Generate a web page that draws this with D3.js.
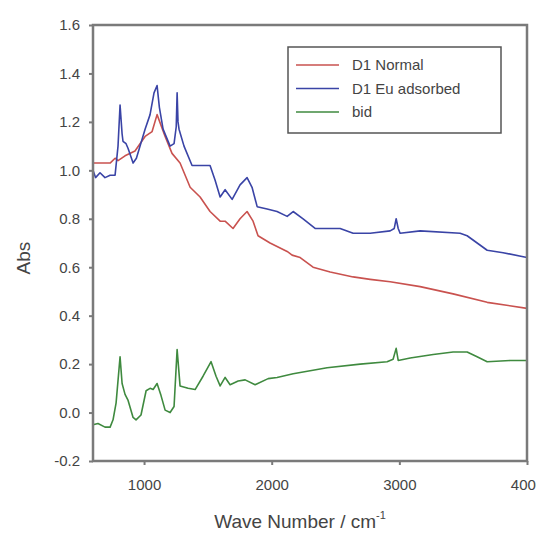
<!DOCTYPE html>
<html>
<head>
<meta charset="utf-8">
<script src="https://cdn.jsdelivr.net/npm/d3@7"></script>
<style>
  body { margin: 0; background: #fff; }
  svg { font-family: "Liberation Sans", Arial, sans-serif; }
</style>
</head>
<body>
<div id="chart"></div>
<script>
// D1 Normal
var normalWn  = [600, 655, 734, 773, 796, 851, 929, 1008, 1063, 1102, 1165, 1219, 1282, 1361, 1439, 1517, 1596, 1635, 1697, 1752, 1807, 1854, 1893, 1987, 2121, 2160, 2223, 2324, 2458, 2638, 2771, 2928, 3163, 3421, 3688, 4000]
var normalAbs = [1.03, 1.03, 1.03, 1.05, 1.04, 1.06, 1.08, 1.14, 1.16, 1.23, 1.14, 1.07, 1.03, 0.93, 0.89, 0.83, 0.79, 0.79, 0.76, 0.80, 0.83, 0.79, 0.73, 0.70, 0.665, 0.65, 0.64, 0.60, 0.58, 0.56, 0.55, 0.54, 0.52, 0.49, 0.455, 0.43]

// D1 Eu adsorbed
var euWn  = [600, 620, 655, 694, 734, 773, 796, 812, 828, 835, 859, 875, 914, 940, 1008, 1047, 1078, 1102, 1120, 1149, 1204, 1235, 1252, 1259, 1266, 1274, 1313, 1376, 1439, 1517, 1556, 1596, 1635, 1690, 1752, 1807, 1846, 1886, 1964, 2042, 2121, 2168, 2246, 2340, 2458, 2536, 2638, 2771, 2928, 2960, 2975, 2991, 3006, 3163, 3476, 3531, 3688, 3813, 4000]
var euAbs = [1.00, 0.97, 0.99, 0.97, 0.98, 0.98, 1.10, 1.27, 1.15, 1.12, 1.11, 1.09, 1.03, 1.05, 1.17, 1.23, 1.32, 1.35, 1.26, 1.17, 1.10, 1.11, 1.18, 1.32, 1.20, 1.17, 1.10, 1.02, 1.02, 1.02, 0.96, 0.89, 0.92, 0.88, 0.94, 0.97, 0.93, 0.85, 0.84, 0.83, 0.81, 0.83, 0.80, 0.76, 0.76, 0.76, 0.74, 0.74, 0.75, 0.76, 0.80, 0.76, 0.74, 0.75, 0.74, 0.73, 0.67, 0.66, 0.64]

// bid
var bidWn  = [600, 639, 694, 734, 757, 781, 812, 828, 851, 875, 914, 937, 976, 1016, 1047, 1071, 1102, 1133, 1165, 1204, 1235, 1259, 1282, 1345, 1400, 1462, 1525, 1564, 1596, 1635, 1674, 1737, 1792, 1870, 1972, 2042, 2168, 2434, 2693, 2904, 2951, 2975, 2991, 3085, 3265, 3421, 3531, 3609, 3688, 3868, 4000]
var bidAbs = [-0.05, -0.045, -0.06, -0.06, -0.03, 0.04, 0.23, 0.12, 0.075, 0.05, -0.02, -0.03, -0.01, 0.09, 0.10, 0.095, 0.12, 0.07, 0.01, 0.00, 0.025, 0.26, 0.11, 0.10, 0.095, 0.15, 0.21, 0.15, 0.11, 0.145, 0.115, 0.13, 0.135, 0.115, 0.14, 0.145, 0.16, 0.185, 0.20, 0.21, 0.22, 0.265, 0.215, 0.225, 0.24, 0.25, 0.25, 0.23, 0.21, 0.215, 0.215]

var seriesNames = ["D1 Normal", "D1 Eu adsorbed", "bid"]
var seriesColors = ["#c9524f", "#3a44a6", "#3f8a3f"]
var xTicks = [1000, 2000, 3000, 4000]
var yTicks = [-0.2, 0.0, 0.2, 0.4, 0.6, 0.8, 1.0, 1.2, 1.4, 1.6]

var width = 536, height = 533
var margin = {top: 25, left: 93, bottom: 72, right: 9}
var grey = "#7a7a7a", textCol = "#444"

var svg = d3.select("#chart").append("svg")
  .attr("width", width)
  .attr("height", height)

var x = d3.scaleLinear().domain([600, 4000]).range([margin.left, width - margin.right])
var y = d3.scaleLinear().domain([-0.2, 1.6]).range([height - margin.bottom, margin.top])

var series = [
  {name: seriesNames[0], wn: normalWn, abs: normalAbs, color: seriesColors[0]},
  {name: seriesNames[1], wn: euWn, abs: euAbs, color: seriesColors[1]},
  {name: seriesNames[2], wn: bidWn, abs: bidAbs, color: seriesColors[2]}
]

var line = d3.line()
  .x(function(d) { return x(d[0]) })
  .y(function(d) { return y(d[1]) })

svg.append("g").selectAll("path")
  .data(series)
  .enter().append("path")
    .attr("d", function(s) { return line(d3.zip(s.wn, s.abs)) })
    .attr("fill", "none")
    .attr("stroke", function(s) { return s.color })
    .attr("stroke-width", 1.6)
    .attr("stroke-linejoin", "round")

// frame
svg.append("rect")
  .attr("x", x.range()[0])
  .attr("y", y.range()[1])
  .attr("width", x.range()[1] - x.range()[0])
  .attr("height", y.range()[0] - y.range()[1])
  .attr("fill", "none")
  .attr("stroke", grey)
  .attr("stroke-width", 2.5)

// plain hyphen for negatives, like the original
var yFmt = function(d) { return d.toFixed(1) }

var xAxis = svg.append("g")
  .attr("transform", "translate(0," + y.range()[0] + ")")
  .call(d3.axisBottom(x).tickValues(xTicks).tickSize(4).tickPadding(14).tickFormat(d3.format("d")))
var yAxis = svg.append("g")
  .attr("transform", "translate(" + x.range()[0] + ",0)")
  .call(d3.axisLeft(y).tickValues(yTicks).tickSize(4).tickPadding(9).tickFormat(yFmt))

;[xAxis, yAxis].forEach(function(ax) {
  ax.select(".domain").remove()
  ax.selectAll(".tick line").attr("stroke", grey).attr("stroke-width", 2)
  ax.selectAll(".tick text")
    .attr("fill", textCol)
    .style("font-size", "15px")
})

// axis titles
svg.append("text")
  .attr("transform", "translate(30,258) rotate(-90)")
  .attr("text-anchor", "middle")
  .attr("fill", textCol)
  .style("font-size", "19px")
  .text("Abs")

var xt = svg.append("text")
  .attr("x", 300)
  .attr("y", 528)
  .attr("text-anchor", "middle")
  .attr("fill", textCol)
  .style("font-size", "19px")
xt.append("tspan").text("Wave Number / cm")
xt.append("tspan").attr("dy", -9).style("font-size", "11px").text("-1")

// legend
var legend = svg.append("g")
legend.append("rect")
  .attr("x", 288).attr("y", 47)
  .attr("width", 213).attr("height", 86)
  .attr("fill", "#fff")
  .attr("stroke", "#555")
  .attr("stroke-width", 1.5)

var row = legend.selectAll(".row")
  .data(series)
  .enter().append("g")
    .attr("class", "row")
    .attr("transform", function(d, i) { return "translate(0," + (65 + i * 23.5) + ")" })
row.append("line")
  .attr("x1", 296).attr("x2", 339)
  .attr("stroke", function(d) { return d.color })
  .attr("stroke-width", 1.6)
row.append("text")
  .attr("x", 352).attr("dy", "0.35em")
  .attr("fill", textCol)
  .style("font-size", "15px")
  .text(function(d) { return d.name })
</script>
</body>
</html>
